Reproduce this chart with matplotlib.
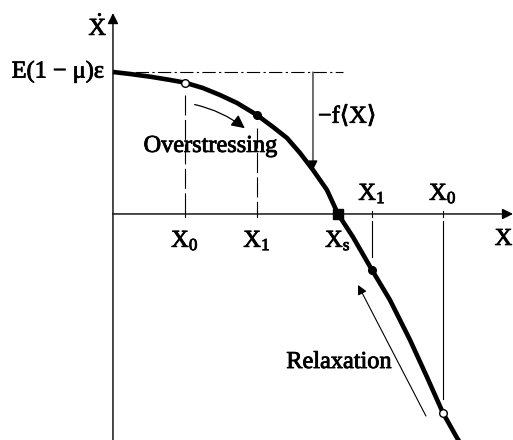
import numpy as np
import matplotlib.pyplot as plt
import matplotlib.patheffects as pe
from matplotlib.patches import FancyArrowPatch

plt.rcParams['font.family'] = ['Liberation Serif', 'DejaVu Serif']
plt.rcParams['mathtext.fontset'] = 'custom'
plt.rcParams['mathtext.rm'] = 'Liberation Serif'
plt.rcParams['mathtext.it'] = 'Liberation Serif:italic'

# curva Xdot(X): tension-velocidad (unidades arbitrarias)
curva_x = [0.0, 0.236, 0.514, 0.792, 1.0, 1.25, 1.486, 1.722, 2.0, 2.222,
           2.417, 2.597, 2.778, 2.972, 3.125, 3.333, 3.597, 3.847, 4.125,
           4.361, 4.583, 4.778, 4.833]
curva_y = [1.0, 0.986, 0.967, 0.944, 0.925, 0.887, 0.838, 0.782, 0.697, 0.613,
           0.535, 0.430, 0.310, 0.169, 0.0, -0.162, -0.394, -0.606, -0.887,
           -1.148, -1.401, -1.577, -1.620]

# puntos de interes sobre la curva
x_izq = [1.0, 2.0]             # X0, X1 (sobretension)
y_izq = [0.925, 0.697]
x_der = [3.597, 4.583]         # X1, X0 (relajacion)
y_der = [-0.394, -1.401]
x_s = 3.125                    # punto de equilibrio Xs
y_f = 0.310                    # Xdot en el pie de la flecha -f<X>

etiquetas_abajo = [r'$\mathrm{X}_0$', r'$\mathrm{X}_1$', r'$\mathrm{X}_\mathrm{s}$']
etiquetas_arriba = [r'$\mathrm{X}_1$', r'$\mathrm{X}_0$']

fig = plt.figure(figsize=(5.13, 4.40), dpi=100)
ax = fig.add_axes([0, 0, 1, 1])
ax.set_xlim(-1.569, 5.556)
ax.set_ylim(-1.592, 1.507)
ax.axis('off')

fs = 17.5
negro = 'black'
grueso = [pe.withStroke(linewidth=0.6, foreground=negro)]  # texto algo mas negro


def texto(x, y, s, **kw):
    return ax.text(x, y, s, fontsize=fs, path_effects=grueso, **kw)


# ejes con flecha
ax.annotate('', xy=(5.556, 0), xytext=(0, 0),
            arrowprops=dict(arrowstyle='-|>', lw=1.0, color=negro,
                            mutation_scale=16, shrinkA=0, shrinkB=0))
ax.annotate('', xy=(0, 1.415), xytext=(0, -1.592),
            arrowprops=dict(arrowstyle='-|>', lw=1.0, color=negro,
                            mutation_scale=16, shrinkA=0, shrinkB=0))

# ticks sobre el eje X
for xt in x_izq + x_der:
    ax.plot([xt, xt], [-0.022, 0.022], color=negro, lw=0.8)

# lineas guia
for xv, yv in zip(x_izq, y_izq):
    ax.plot([xv, xv], [yv - 0.09, 0.0], color=negro, lw=0.8, dashes=(18, 4))
ax.plot([x_der[0], x_der[0]], [-0.05, -0.30], color=negro, lw=0.8)
ax.plot([x_der[1], x_der[1]], [-0.05, -1.30], color=negro, lw=0.8)
ax.plot([0, 3.19], [1.0, 1.0], color=negro, lw=0.8, dashes=(12, 3, 2, 3))

# curva principal
ax.plot(curva_x, curva_y, color=negro, lw=3.3, solid_capstyle='butt',
        solid_joinstyle='round', zorder=3)
ax.plot([x_izq[0], x_der[1]], [y_izq[0], y_der[1]], 'o', ms=5.5, mfc='white',
        mec=negro, mew=1.0, zorder=4)
ax.plot([x_izq[1], x_der[0]], [y_izq[1], y_der[0]], 'o', ms=5.5, color=negro, zorder=4)
ax.plot([x_s], [0], 's', ms=7, color=negro, zorder=4)

# etiquetas del eje X
for xt, lab in zip(x_izq + [x_s], etiquetas_abajo):
    texto(xt, -0.232, lab, ha='center', va='baseline')
for xt, lab in zip(x_der, etiquetas_arriba):
    texto(xt, 0.099, lab, ha='center', va='baseline')
texto(5.545, -0.218, 'X', ha='right', va='baseline')
texto(-0.208, 1.261, r'$\dot{\mathrm{X}}$', ha='center', va='baseline')
texto(-0.125, 1.0, 'E(1 − μ)ε', ha='right', va='center')

# flecha -f<X>
ax.annotate('', xy=(2.778, y_f), xytext=(2.778, 1.0),
            arrowprops=dict(arrowstyle='-|>', lw=0.8, color=negro,
                            mutation_scale=14, shrinkA=0, shrinkB=0))
texto(2.847, 0.683, '−f⟨X⟩', ha='left', va='center')

# sobretension
ax.add_patch(FancyArrowPatch((1.097, 0.775), (1.861, 0.592),
                             connectionstyle='arc3,rad=-0.12', arrowstyle='-|>',
                             mutation_scale=20, lw=0.9, color=negro))
texto(1.354, 0.437, 'Overstressing', ha='center', va='baseline')

# relajacion
ax.annotate('', xy=(3.403, -0.5), xytext=(4.347, -1.423),
            arrowprops=dict(arrowstyle='-|>', lw=0.8, color=negro,
                            mutation_scale=14, shrinkA=0, shrinkB=0))
texto(3.139, -1.085, 'Relaxation', ha='center', va='baseline')

fig.savefig('out.png', dpi=100)
